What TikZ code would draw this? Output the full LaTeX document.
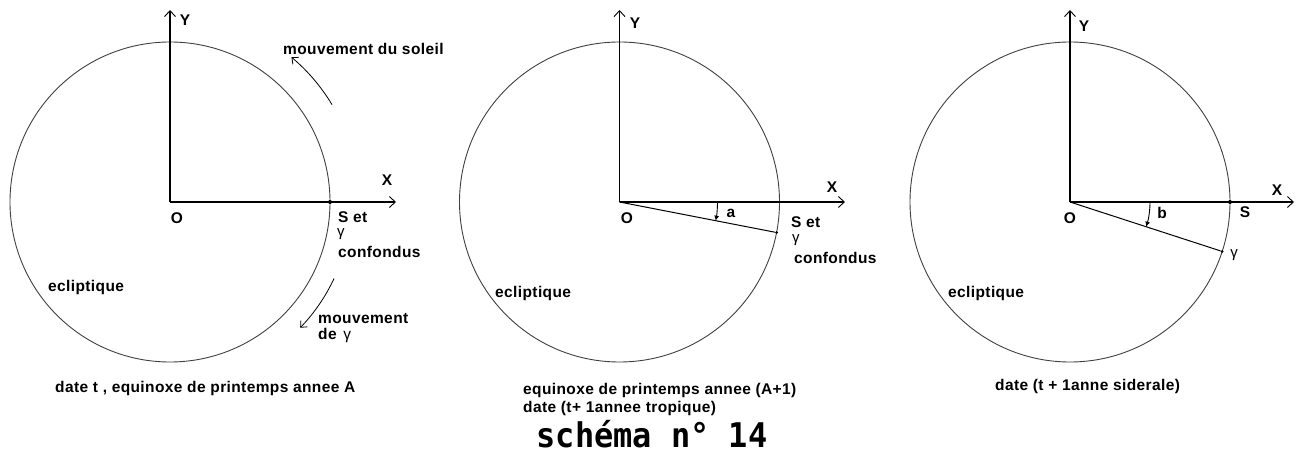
\documentclass[tikz,border=0pt]{standalone}
\usepackage{fontspec}
\setmainfont[LetterSpace=2.5]{Liberation Sans}
\newfontfamily\capfont[FakeStretch=0.94]{DejaVu Sans Mono}
\usetikzlibrary{arrows.meta,calc}
\tikzset{
  ax/.style={line width=1.1pt, -{Straight Barb[length=6pt,width=11pt,line width=0.9pt]}},
  orb/.style={draw=black!75, line width=0.9pt},
  ray/.style={line width=1pt},
  mov/.style={line width=0.8pt, -{Straight Barb[length=5pt,width=9pt,line width=0.8pt]}},
  ang/.style={line width=0.9pt, -{Latex[length=5pt,width=5pt]}},
  lbl/.style={font=\bfseries\fontsize{15.5}{17}\selectfont, inner sep=0pt},
  gam/.style={font=\fontsize{15}{17}\selectfont, inner sep=0pt},
  dot/.style={circle, fill, inner sep=0pt, minimum size=4pt},
}
\begin{document}
\begin{tikzpicture}[x=1pt,y=-1pt]
\useasboundingbox[fill=white] (0,0) rectangle (1296,454);

% ---------- diagram 1 ----------
\coordinate (O1) at (170,202);
\coordinate (Y1) at (170,10);
\coordinate (X1) at (396,202);
\draw[orb] (O1) circle[radius=160];
\draw[ax] (O1) -- (Y1);
\draw[ax] (O1) -- (X1);
\node[dot] (S1) at (330,202) {};
\node[lbl] (Y1l) at (185,20) {Y};
\node[lbl] (X1l) at (387,180) {X};
\node[lbl] (O1l) at (177,218) {O};
\node[lbl,anchor=west] (Set1) at (338,217) {S et};
\node[gam,anchor=west] (g1) at (337,234) {γ};
\node[lbl,anchor=west] (conf1) at (338,252) {confondus};
\node[lbl,anchor=west] (ecl1) at (48,287) {ecliptique};
\node[lbl,anchor=west] (msol) at (283,49) {mouvement du soleil};
\node[lbl,anchor=west] (mg1) at (318,319) {mouvement};
\node[lbl,anchor=west] (mg2) at (318,335) {de \hspace{2pt}\mdseries γ};
\node[lbl,anchor=west] (cap1) at (55,388) {date t , equinoxe de printemps annee A};
\coordinate (A1s) at ($(O1)+(-31:189)$);
\draw[mov] (A1s) arc[start angle=-31, end angle=-50, radius=189];
\coordinate (A2s) at ($(O1)+(25:181)$);
\draw[mov] (A2s) arc[start angle=25, end angle=44, radius=181];

% ---------- diagram 2 ----------
\coordinate (O2) at (619.5,202);
\coordinate (Y2) at (619.5,10);
\coordinate (X2) at (845,202);
\draw[orb] (O2) circle[radius=160];
\draw[ax] (O2) -- (Y2);
\draw[ax] (O2) -- (X2);
\node[dot,minimum size=3pt] (S2) at ($(O2)+(11:160)$) {};
\draw[ray] (O2) -- (S2);
\coordinate (a2s) at ($(O2)+(0:98)$);
\draw[ang] (a2s) arc[start angle=0, end angle=11, radius=98];
\node[lbl] (a2l) at (731,213) {a};
\node[lbl] (Y2l) at (635,23) {Y};
\node[lbl] (X2l) at (832,187) {X};
\node[lbl] (O2l) at (627,218) {O};
\node[lbl,anchor=west] (Set2) at (791,222) {S et};
\node[gam,anchor=west] (g2) at (792,240) {γ};
\node[lbl,anchor=west] (conf2) at (794,258) {confondus};
\node[lbl,anchor=west] (ecl2) at (495,293) {ecliptique};
\node[lbl,anchor=west] (cap2a) at (523,390) {equinoxe de printemps annee (A+1)};
\node[lbl,anchor=west] (cap2b) at (523,408) {date (t+ 1annee tropique)};
\node[inner sep=0pt, anchor=base, font=\capfont\bfseries\fontsize{34}{34}\selectfont] (title) at (652,447) {schéma n° 14};

% ---------- diagram 3 ----------
\coordinate (O3) at (1070,202);
\coordinate (Y3) at (1070,10);
\coordinate (X3) at (1294,202);
\draw[orb] (O3) circle[radius=160];
\draw[ax] (O3) -- (Y3);
\draw[ax] (O3) -- (X3);
\node[dot] (S3) at (1230,202) {};
\node[dot,minimum size=3pt] (G3) at ($(O3)+(18:160)$) {};
\draw[ray] (O3) -- (G3);
\coordinate (b3s) at ($(O3)+(0:80)$);
\draw[ang] (b3s) arc[start angle=0, end angle=18, radius=80];
\node[lbl] (b3l) at (1162,213) {b};
\node[lbl] (Y3l) at (1084,26) {Y};
\node[lbl] (X3l) at (1277,190) {X};
\node[lbl] (O3l) at (1070,218) {O};
\node[lbl] (S3l) at (1245,212) {S};
\node[gam] (g3l) at (1234,255) {γ};
\node[lbl,anchor=west] (ecl3) at (948,293) {ecliptique};
\node[lbl,anchor=west] (cap3) at (995,386) {date (t + 1anne siderale)};
\end{tikzpicture}
\end{document}
